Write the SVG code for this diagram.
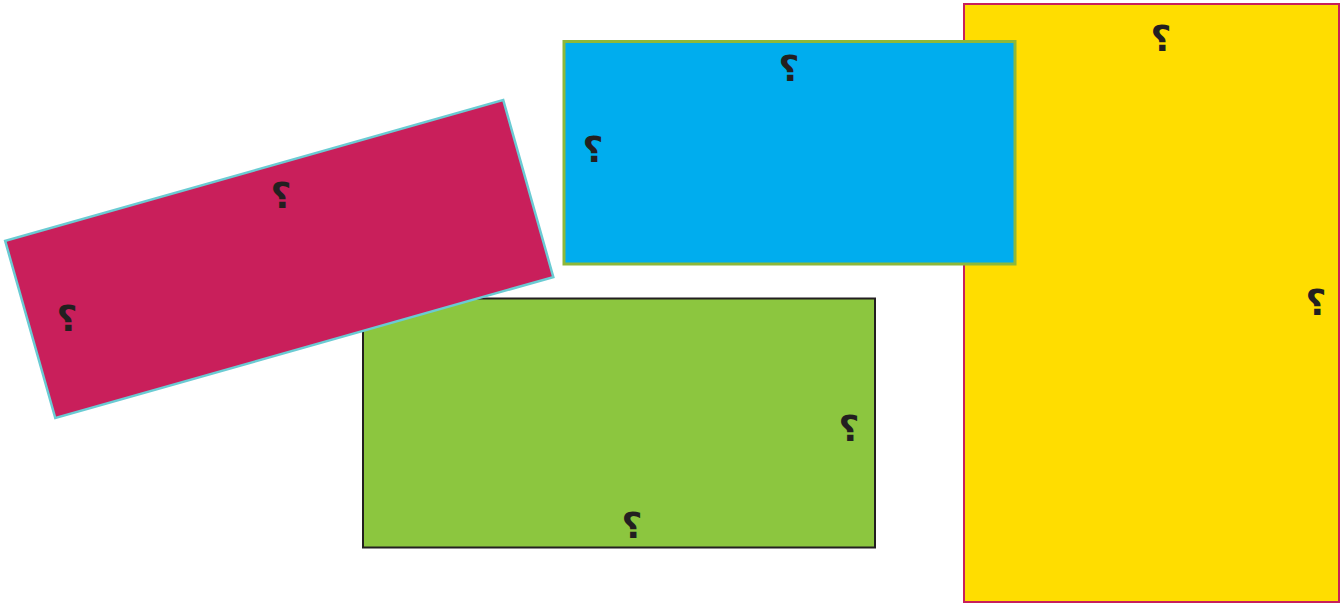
<svg xmlns="http://www.w3.org/2000/svg" width="1340" height="606" viewBox="0 0 1340 606">
<style>
.q{font-family:"DejaVu Serif","DejaVu Sans",serif;font-size:36px;fill:#231F20;text-anchor:middle;font-weight:bold}
</style>
<rect width="1340" height="606" fill="#fff"/>
<g id="yellow">
<rect x="964" y="4" width="375" height="598" fill="#FFDD00" stroke="#C8205A" stroke-width="2"/>
<text class="q" x="1161" y="51">؟</text>
<text class="q" x="1316" y="315">؟</text>
</g>
<g id="blue">
<rect x="564" y="41.5" width="451" height="222.5" fill="#00ADEE" stroke="#8DB83A" stroke-width="3"/>
<text class="q" x="789" y="81">؟</text>
<text class="q" x="593" y="162">؟</text>
</g>
<g id="green">
<rect x="363" y="298.5" width="512" height="249" fill="#8CC63F" stroke="#231F20" stroke-width="2"/>
<text class="q" x="849" y="441">؟</text>
<text class="q" x="632" y="538">؟</text>
</g>
<g id="red">
<rect x="-258.8" y="-92" width="517.6" height="184" transform="translate(279.25 259) rotate(-15.8)" fill="#C91F5B" stroke="#6ACBD3" stroke-width="2.5"/>
<text class="q" x="281" y="208">؟</text>
<text class="q" x="67" y="331">؟</text>
</g>
<g id="connectors"></g>
</svg>
